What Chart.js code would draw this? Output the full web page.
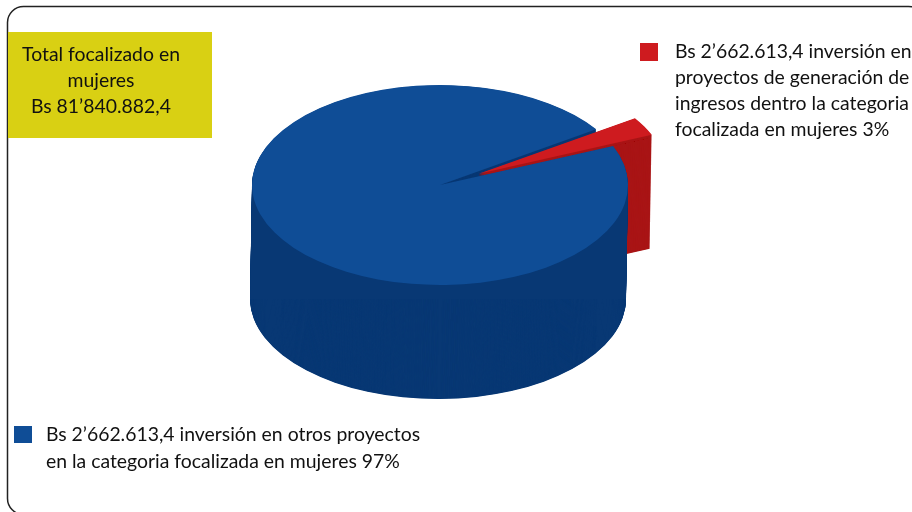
<!DOCTYPE html>
<html>
<head>
<meta charset="utf-8">
<style>
  html, body { margin: 0; padding: 0; background: #fff; }
  canvas { display: block; }
</style>
<script src="https://cdn.jsdelivr.net/npm/chart.js@4"></script>
</head>
<body>
<canvas id="pieChart" width="912" height="512"></canvas>
<script>
const categories = ['Otros proyectos', 'Proyectos de generación de ingresos'];
const shares = [97, 3];
const topColors = ['#0F4D96', '#CE1B1F'];
const wallColors = ['#083874', '#A91516'];

const totalLines = ['Total focalizado en', 'mujeres', 'Bs 81’840.882,4'];
const blueLines = ['Bs 2’662.613,4 inversión en otros proyectos', 'en la categoria focalizada en mujeres 97%'];
const redLines = ['Bs 2’662.613,4 inversión en', 'proyectos de generación de', 'ingresos dentro la categoria', 'focalizada en mujeres 3%'];

const FONT = '19.4px Lato, sans-serif';
const SQUASH = 100 / 188;
const DEPTH = 114;
const LEAN = -2;
const EXPLODE = 44;

// path of one slice, squashed around the pie centre line cy
function wedge(ctx, arc, cy, dx, dy) {
  ctx.save();
  ctx.translate(dx, cy + dy);
  ctx.scale(1, SQUASH);
  ctx.translate(0, -cy);
  ctx.beginPath();
  ctx.moveTo(arc.x, arc.y);
  ctx.arc(arc.x, arc.y, arc.outerRadius, arc.startAngle, arc.endAngle);
  ctx.closePath();
  ctx.restore();
}

function fillWalls(ctx, arc, cy, color) {
  ctx.fillStyle = color;
  for (let d = DEPTH; d > 0; d -= 0.5) {
    wedge(ctx, arc, cy, LEAN * d / DEPTH, d);
    ctx.fill();
  }
}

const pie3d = {
  id: 'pie3d',
  afterDatasetsUpdate(chart) {
    // pull the small slice out of the pie
    const red = chart.getDatasetMeta(0).data[1];
    const mid = (red.startAngle + red.endAngle) / 2;
    red.x += Math.cos(mid) * EXPLODE;
    red.y += Math.sin(mid) * EXPLODE;
  },
  beforeDatasetsDraw(chart) {
    const ctx = chart.ctx;
    const [blue, red] = chart.getDatasetMeta(0).data;
    const r = blue.outerRadius;

    ctx.save();
    fillWalls(ctx, red, blue.y, wallColors[1]);
    fillWalls(ctx, blue, blue.y, wallColors[0]);

    // straight sides of the drum, the stacked layers leave a stepped edge
    ctx.beginPath();
    ctx.moveTo(blue.x - r, blue.y);
    ctx.lineTo(blue.x + r, blue.y);
    ctx.lineTo(blue.x + r + LEAN, blue.y + DEPTH);
    ctx.lineTo(blue.x - r + LEAN, blue.y + DEPTH);
    ctx.closePath();
    ctx.fill();

    // the red inner wall shows through the notch of the blue slice
    ctx.save();
    const notch = { x: blue.x, y: blue.y, startAngle: red.startAngle, endAngle: red.endAngle, outerRadius: r * 1.2 };
    wedge(ctx, notch, blue.y, 0, 0);
    ctx.clip();
    fillWalls(ctx, red, blue.y, wallColors[1]);
    ctx.restore();
    ctx.restore();

    // squash the chart's own top faces into an ellipse
    ctx.save();
    ctx.translate(0, blue.y);
    ctx.scale(1, SQUASH);
    ctx.translate(0, -blue.y);
  },
  afterDatasetsDraw(chart) {
    chart.ctx.restore();
  },
  afterDraw(chart) {
    const ctx = chart.ctx;
    ctx.save();

    // frame
    ctx.strokeStyle = '#222222';
    ctx.lineWidth = 1.5;
    ctx.beginPath();
    ctx.roundRect(7.5, 6.5, 917, 508, 16);
    ctx.stroke();

    // total box
    ctx.fillStyle = '#D9D013';
    ctx.fillRect(8, 32, 204, 106);

    // legend squares
    ctx.fillStyle = topColors[1];
    ctx.fillRect(640, 43, 18, 18);
    ctx.fillStyle = topColors[0];
    ctx.fillRect(14, 426, 18, 17);

    ctx.fillStyle = '#111111';
    ctx.font = FONT;
    ctx.textBaseline = 'alphabetic';
    ctx.textAlign = 'center';
    totalLines.forEach((line, i) => ctx.fillText(line, 101, 61 + i * 26));
    ctx.textAlign = 'left';
    redLines.forEach((line, i) => ctx.fillText(line, 675, 58 + i * 26));
    blueLines.forEach((line, i) => ctx.fillText(line, 46, 441 + i * 27));
    ctx.restore();
  }
};

new Chart(document.getElementById('pieChart').getContext('2d'), {
  type: 'pie',
  data: {
    labels: categories,
    datasets: [{
      data: shares,
      backgroundColor: topColors,
      borderWidth: 0,
      clip: false
    }]
  },
  options: {
    responsive: false,
    animation: false,
    rotation: 67,
    radius: 188,
    layout: { padding: { left: 0, right: 32, top: 0, bottom: 142 } },
    plugins: { legend: { display: false }, tooltip: { enabled: false } }
  },
  plugins: [pie3d]
});
</script>
</body>
</html>
